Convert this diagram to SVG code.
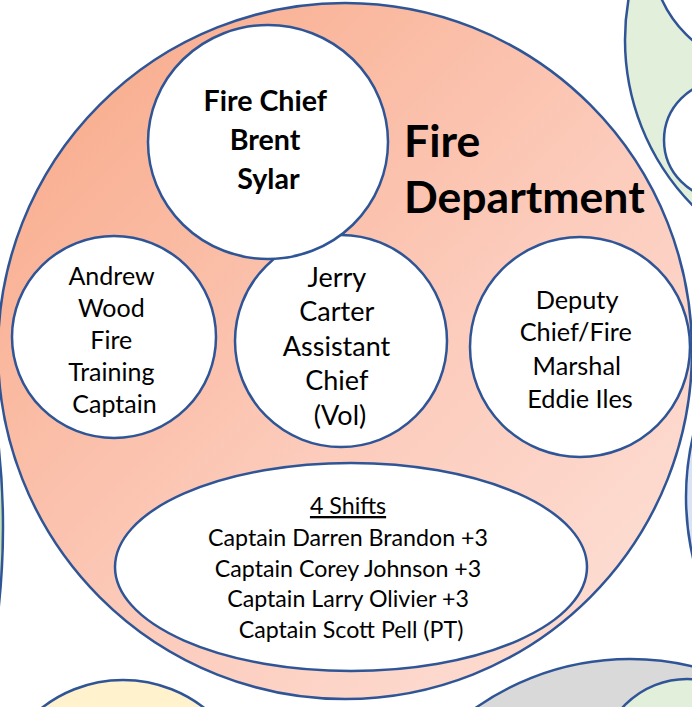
<svg xmlns="http://www.w3.org/2000/svg" width="692" height="707" viewBox="0 0 692 707">
  <defs>
    <linearGradient id="deptFill" x1="0" y1="0" x2="1" y2="1">
      <stop offset="0" stop-color="#F8A785"/>
      <stop offset="0.55" stop-color="#FCCBBB"/>
      <stop offset="1" stop-color="#FDE2D9"/>
    </linearGradient>
  </defs>
  <style>
    .ring { stroke: #2F5597; stroke-width: 2.5; }
    .white { fill: #FFFFFF; }
    .label { font-family: Lato, "Open Sans", "Liberation Sans", sans-serif; fill: #000000; text-anchor: middle; }
    .bold { font-weight: bold; }
  </style>

  <!-- neighbouring departments, cut off by the page edge -->
  <g id="neighbour-top-right">
    <circle class="ring" cx="861" cy="40" r="236" fill="#E2EFDA"/>
    <circle class="ring white" cx="770" cy="-50" r="119"/>
    <circle class="ring white" cx="723" cy="140" r="59"/>
  </g>
  <g id="neighbour-right">
    <circle class="ring" cx="955" cy="497" r="269" fill="#DAE3F3"/>
  </g>
  <g id="neighbour-left">
    <circle class="ring" cx="-735" cy="527" r="738" fill="#C5E0B4"/>
  </g>
  <g id="neighbour-bottom-left">
    <circle class="ring" cx="123" cy="812" r="132" fill="#FFF2CC"/>
  </g>
  <g id="neighbour-bottom-right">
    <circle class="ring" cx="630" cy="927" r="268" fill="#D9D9D9"/>
    <circle class="ring" cx="687" cy="766" r="87" fill="#E2EFDA"/>
  </g>

  <!-- Fire Department -->
  <g id="fire-department">
    <ellipse class="ring" cx="345" cy="351" rx="347" ry="348" fill="url(#deptFill)"/>
    <text class="label bold" font-size="44.5" style="text-anchor:start" x="404" y="157">Fire</text>
    <text class="label bold" font-size="44.5" style="text-anchor:start" x="404" y="213">Department</text>
  </g>

  <g id="assistant-chief">
    <ellipse class="ring white" cx="341" cy="341" rx="106" ry="106"/>
    <text class="label" font-size="27">
      <tspan x="340" y="287">Jerry</tspan>
      <tspan x="340" y="321">Carter</tspan>
      <tspan x="340" y="356">Assistant</tspan>
      <tspan x="340" y="390">Chief</tspan>
      <tspan x="340" y="425">(Vol)</tspan>
    </text>
  </g>

  <g id="fire-chief">
    <ellipse class="ring white" cx="268" cy="142" rx="120" ry="117"/>
    <text class="label bold" font-size="28.6">
      <tspan x="268.5" y="111">Fire Chief</tspan>
      <tspan x="268.5" y="150">Brent</tspan>
      <tspan x="268.5" y="189">Sylar</tspan>
    </text>
  </g>

  <g id="training-captain">
    <ellipse class="ring white" cx="114" cy="337" rx="102" ry="101"/>
    <text class="label" font-size="25">
      <tspan x="114.5" y="285">Andrew</tspan>
      <tspan x="114.5" y="317">Wood</tspan>
      <tspan x="114.5" y="349">Fire</tspan>
      <tspan x="114.5" y="381">Training</tspan>
      <tspan x="114.5" y="413">Captain</tspan>
    </text>
  </g>

  <g id="deputy-chief">
    <ellipse class="ring white" cx="580" cy="347" rx="110" ry="110"/>
    <text class="label" font-size="25.3">
      <tspan x="580" y="309">Deputy</tspan>
      <tspan x="579" y="341">Chief/Fire</tspan>
      <tspan x="580" y="375">Marshal</tspan>
      <tspan x="580" y="408">Eddie Iles</tspan>
    </text>
  </g>

  <g id="shifts">
    <ellipse class="ring white" cx="351" cy="567" rx="236" ry="104"/>
    <text class="label" font-size="23.2">
      <tspan x="351" y="514" text-decoration="underline">4 Shifts</tspan>
      <tspan x="351" y="546">Captain Darren Brandon +3</tspan>
      <tspan x="351" y="577">Captain Corey Johnson +3</tspan>
      <tspan x="351" y="607">Captain Larry Olivier +3</tspan>
      <tspan x="351" y="638">Captain Scott Pell (PT)</tspan>
    </text>
  </g>
</svg>
